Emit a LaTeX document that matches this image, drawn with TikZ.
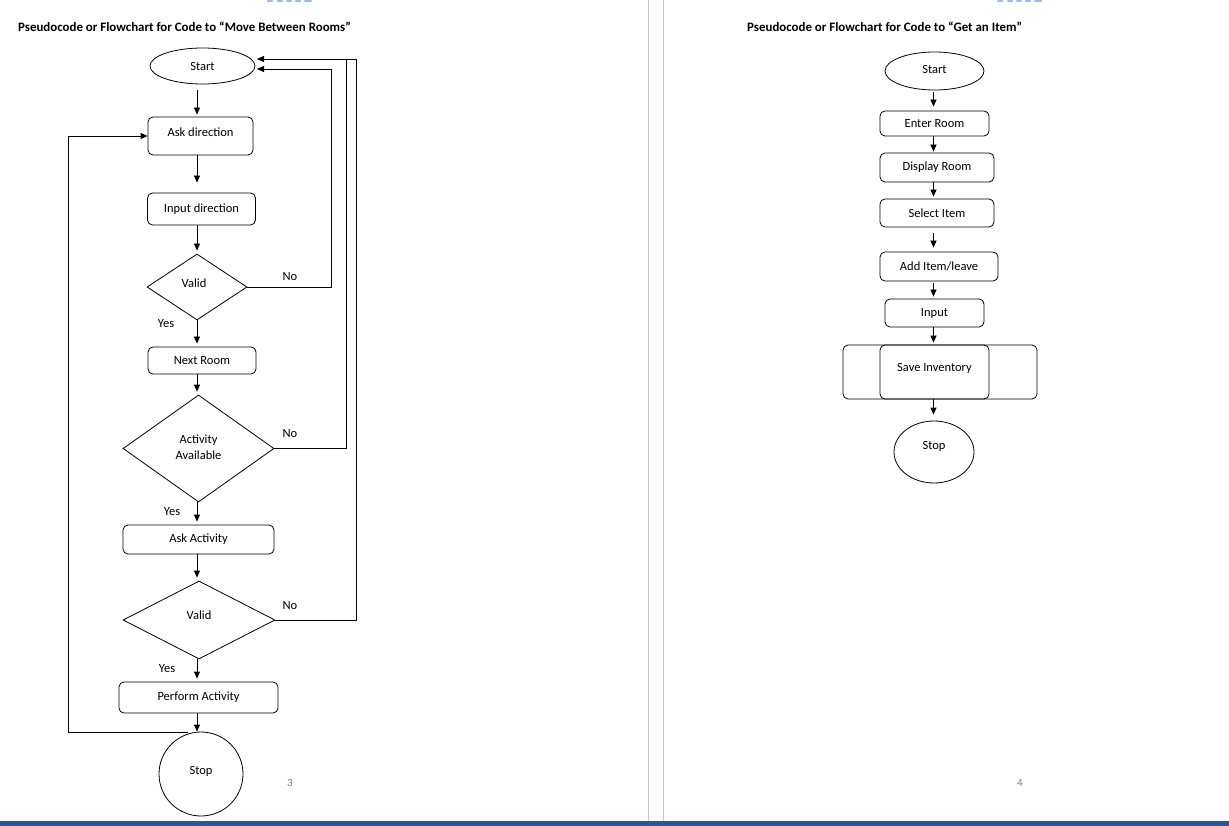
\documentclass[tikz,border=0pt]{standalone}
\usepackage{fontspec}
\setmainfont{Carlito}
\usetikzlibrary{shapes.geometric,arrows.meta,calc}
\definecolor{wordblue}{RGB}{43,87,154}
\definecolor{hdrblue}{RGB}{160,185,228}
\definecolor{sepgray}{RGB}{200,200,200}
\definecolor{numgray}{RGB}{128,128,128}
\begin{document}
\begin{tikzpicture}[x=1pt,y=-1pt,
  every node/.style={font=\fontsize{12.5}{17}\selectfont, inner sep=0pt},
  box/.style={draw, rounded corners=5pt, line width=0.8pt},
  dec/.style={draw, diamond, line width=0.8pt},
  oval/.style={draw, ellipse, line width=0.8pt},
  arr/.style={line width=0.8pt, -{Triangle[length=7pt,width=6pt]}},
  ln/.style={line width=0.8pt},
  ttl/.style={anchor=west, font=\fontsize{12.9}{14}\selectfont\bfseries},
  pnum/.style={text=numgray, font=\fontsize{11}{13}\selectfont},
]
\fill[white] (0,0) rectangle (1229,826);
\useasboundingbox (0,0) rectangle (1229,826);

% header fragments
\foreach \x/\w in {267/6,277/6,286/6,295/6,304/8,997/6,1007/6,1016/6,1025/6,1034/8}
  \fill[hdrblue, rounded corners=1pt] (\x,0) rectangle (\x+\w,2.2);

% page separators and bottom bar
\draw[sepgray, line width=1pt] (648,0) -- (648,821);
\draw[sepgray, line width=1pt] (663,0) -- (663,821);
\fill[wordblue] (0,821) rectangle (1229,826);

% titles
\node[ttl] (t1) at (18,27) {Pseudocode or Flowchart for Code to “Move Between Rooms”};
\node[ttl] (t2) at (747,27) {Pseudocode or Flowchart for Code to “Get an Item”};

% ---------------- left flowchart ----------------
\node[oval, minimum width=105pt, minimum height=36pt] (start) at (202.5,66) {Start};
\node[box, minimum width=105pt, minimum height=38pt] (ask) at (200.5,136) {\raisebox{8pt}{Ask direction}};
\node[box, minimum width=108pt, minimum height=32pt] (inp) at (201.5,209) {Input direction};
\node[dec, minimum width=100pt, minimum height=66pt] (v1) at (197,287) {\raisebox{8pt}{Valid\kern6pt}};
\node[box, minimum width=108pt, minimum height=27pt] (next) at (202,360.5) {\raisebox{-3pt}{Next Room}};
\node[dec, minimum width=151pt, minimum height=107pt] (act) at (198.5,448.5) {\raisebox{8pt}{\begin{tabular}{@{}c@{}}Activity\\[-1pt]Available\end{tabular}}};
\node[box, minimum width=151pt, minimum height=29pt] (askact) at (198.5,539.5) {Ask Activity};
\node[dec, minimum width=152pt, minimum height=78pt] (v2) at (199,620) {\raisebox{9pt}{Valid}};
\node[box, minimum width=159pt, minimum height=31pt] (perf) at (198.5,697.5) {\raisebox{2pt}{Perform Activity}};
\node[draw, circle, minimum size=84pt, line width=0.8pt] (stop) at (201,774) {\raisebox{8pt}{Stop}};

\coordinate (cx) at (197,0);
\draw[arr, shorten <=6pt, shorten >=2pt] (start.south -| cx) -- (ask.north -| cx);
\draw[arr, shorten >=10pt] (ask.south -| cx) -- (inp.north -| cx);
\draw[arr, shorten >=3pt] (inp.south -| cx) -- (v1.north);
\draw[arr, shorten >=3pt] (v1.south) -- (next.north -| cx);
\draw[arr, shorten >=3pt] (next.south -| cx) -- (act.north -| cx);
\draw[arr, shorten >=3pt] (act.south -| cx) -- (askact.north -| cx);
\draw[arr, shorten >=3pt] (askact.south -| cx) -- (v2.north -| cx);
\draw[arr, shorten >=3pt] (v2.south -| cx) -- (perf.north -| cx);
\draw[arr] (perf.south -| cx) -- (stop.north -| cx);

% loop back to Ask direction
\coordinate (lp) at (188,732);
\coordinate (lx) at (68,732);
\draw[arr] (lp) -- (lx) |- (ask.west);

% "No" branches back to Start
\coordinate (s1) at (257,69);
\coordinate (s2) at (257,59);
\coordinate (n1) at (331,0);
\coordinate (n2) at (346,0);
\coordinate (n3) at (356,0);
\draw[arr] (v1.east) -| (n1 |- s1) -- (s1);
\draw[ln] (act.east) -| (n2 |- s2);
\draw[arr] (v2.east) -| (n3 |- s2) -- (s2);

\node (no1) at (290,277) {No};
\node (no2) at (290,434) {No};
\node (no3) at (290,606) {No};
\node (yes1) at (166,324) {Yes};
\node (yes2) at (172,512) {Yes};
\node (yes3) at (167,669) {Yes};

\node[pnum] (p3) at (290,783) {3};

% ---------------- right flowchart ----------------
\node[oval, minimum width=99pt, minimum height=38pt] (rstart) at (934.5,71) {\raisebox{4pt}{Start}};
\node[box, minimum width=109pt, minimum height=25pt] (enter) at (934.5,123.5) {\raisebox{-3pt}{Enter Room}};
\node[box, minimum width=114pt, minimum height=29pt] (disp) at (937,167.5) {Display Room};
\node[box, minimum width=114pt, minimum height=28pt] (sel) at (937,213) {\raisebox{-2pt}{Select Item}};
\node[box, minimum width=118pt, minimum height=29pt] (add) at (939,266.5) {Add Item/leave};
\node[box, minimum width=99pt, minimum height=28pt] (inp2) at (934.5,313) {Input};
\node[box, minimum width=194pt, minimum height=54pt] (saveo) at (940,372) {};
\node[box, minimum width=109pt, minimum height=54pt] (save) at (934.5,372) {\raisebox{10pt}{Save Inventory}};
\node[oval, minimum width=80pt, minimum height=62pt] (rstop) at (934,452) {\raisebox{14pt}{Stop}};

\coordinate (rx) at (933.5,0);
\draw[arr, shorten <=2pt, shorten >=4pt] (rstart.south -| rx) -- (enter.north -| rx);
\draw[arr, shorten >=1pt] (enter.south -| rx) -- (disp.north -| rx);
\draw[arr, shorten >=2pt] (disp.south -| rx) -- (sel.north -| rx);
\draw[arr, shorten <=6pt, shorten >=4pt] (sel.south -| rx) -- (add.north -| rx);
\draw[arr, shorten <=2pt, shorten >=2pt] (add.south -| rx) -- (inp2.north -| rx);
\draw[arr, shorten >=2pt] (inp2.south -| rx) -- (save.north -| rx);
\draw[arr, shorten >=6pt] (save.south -| rx) -- (rstop.north -| rx);

\node[pnum] (p4) at (1020,783) {4};
\end{tikzpicture}
\end{document}
